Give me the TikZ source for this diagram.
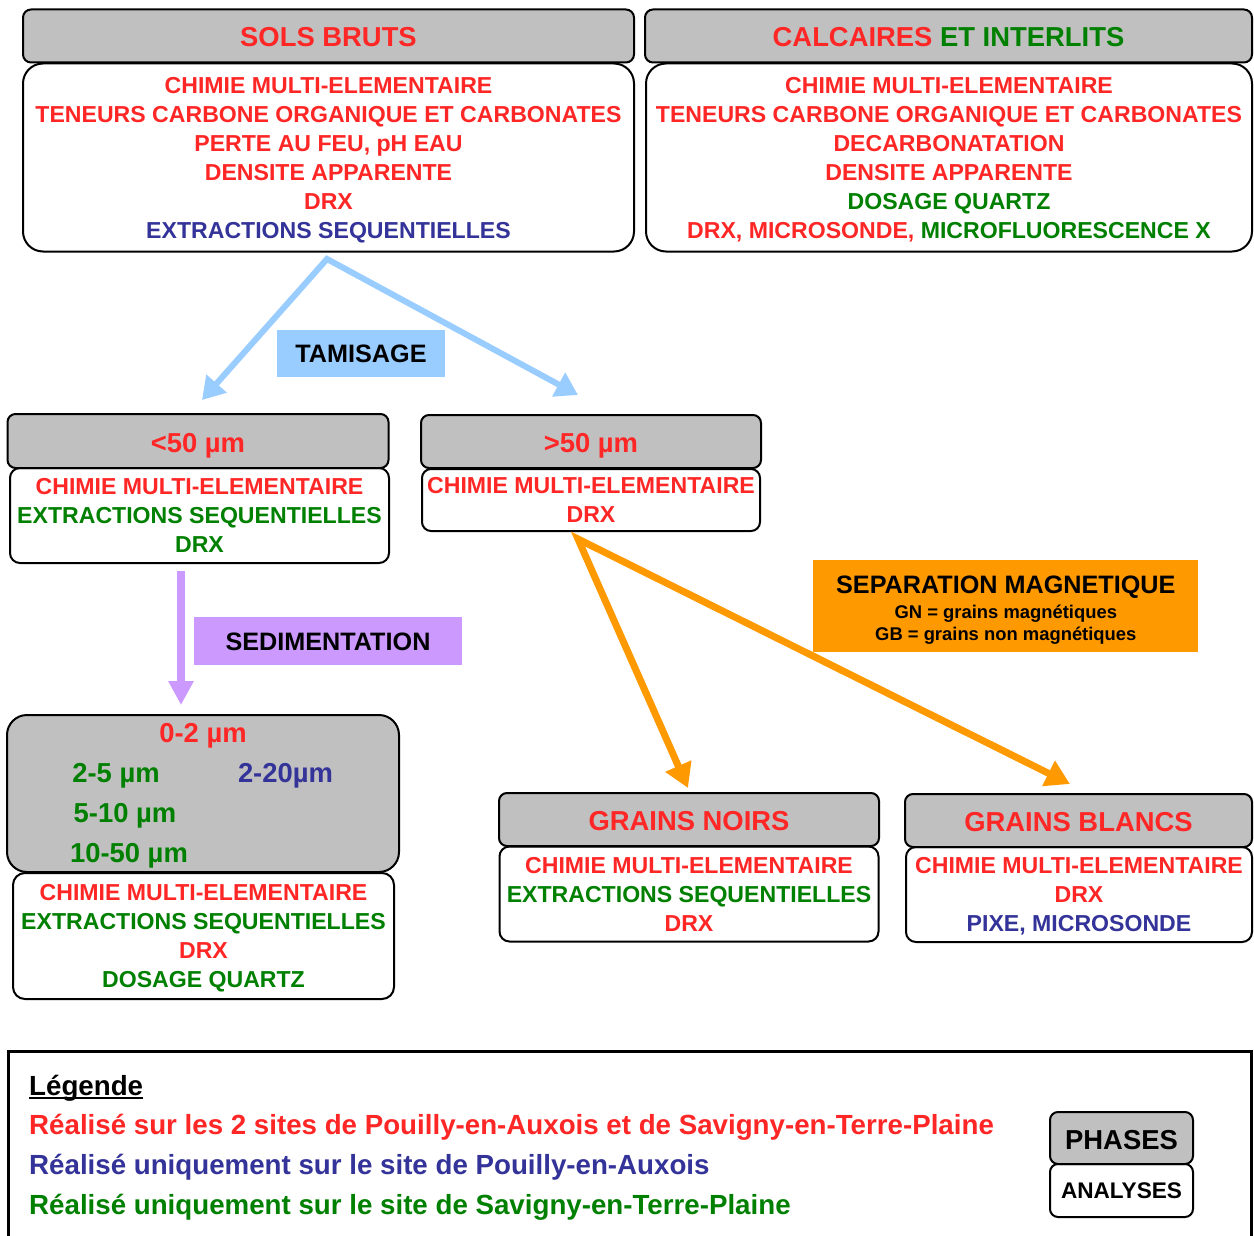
\documentclass[tikz,border=0pt]{standalone}
\usepackage{fontspec}
\setmainfont{Liberation Sans}
\usetikzlibrary{arrows.meta,calc}
\definecolor{cred}{RGB}{255,38,38}
\definecolor{cgreen}{RGB}{0,128,0}
\definecolor{cblue}{RGB}{51,51,153}
\definecolor{hgray}{RGB}{192,192,192}
\definecolor{tamc}{RGB}{153,204,255}
\definecolor{sedc}{RGB}{204,153,255}
\definecolor{sepc}{RGB}{255,153,0}
\newcommand\fhd{\fontsize{27.4}{32}\selectfont\bfseries}
\newcommand\fbd{\fontsize{23.1}{29}\selectfont\bfseries}
\newcommand\flab{\fontsize{25.2}{30}\selectfont\bfseries}
\newcommand\fsm{\fontsize{18.4}{22}\selectfont\bfseries}
\newcommand\fleg{\fontsize{27.7}{32}\selectfont\bfseries}
\newcommand\fana{\fontsize{22.6}{26}\selectfont\bfseries}
\begin{document}
\begin{tikzpicture}[x=1pt,y=-1pt,
 hdr/.style={draw=black,line width=2pt,fill=hgray,rounded corners=8pt,inner sep=0pt,font=\fhd,text=cred,text height=22pt,text depth=0pt},
 body/.style={draw=black,line width=2pt,fill=white,rounded corners=10pt,inner sep=0pt,font=\fbd,text=cred,align=center,text depth=0pt},
 lab/.style={inner sep=0pt,font=\flab,text=black,text height=18.5pt,text depth=0pt},
 txt/.style={inner sep=0pt,anchor=base},
 tamarr/.style={draw=tamc,line width=6pt,line join=miter,arrows={Triangle[length=22pt,width=26pt]-Triangle[length=22pt,width=26pt]}},
 sedarr/.style={draw=sedc,line width=8pt,arrows={-Triangle[length=24pt,width=24pt]}},
 separr/.style={draw=sepc,line width=7pt,line join=miter,arrows={Triangle[length=24pt,width=27pt]-Triangle[length=24pt,width=27pt]}}
]
\useasboundingbox (0,0) rectangle (1254,1236);
\clip (0,0) rectangle (1254,1236);
\fill[white] (0,0) rectangle (1254,1236);

% SOLS BRUTS
\node[body,rounded corners=20pt,minimum width=611pt,minimum height=188pt] (sbb) at (328.5,157.5)
 {CHIMIE MULTI-ELEMENTAIRE\\TENEURS CARBONE ORGANIQUE ET CARBONATES\\PERTE AU FEU, pH EAU\\DENSITE APPARENTE\\DRX\\\textcolor{cblue}{EXTRACTIONS SEQUENTIELLES}};
\node[hdr,minimum width=611pt,minimum height=53pt] (sbh) at (328.5,36) {SOLS BRUTS};

% CALCAIRES
\node[body,rounded corners=20pt,minimum width=606pt,minimum height=188pt] (cab) at (949,157.5)
 {CHIMIE MULTI-ELEMENTAIRE\\TENEURS CARBONE ORGANIQUE ET CARBONATES\\DECARBONATATION\\DENSITE APPARENTE\\\textcolor{cgreen}{DOSAGE QUARTZ}\\DRX, MICROSONDE, \textcolor{cgreen}{MICROFLUORESCENCE X}};
\node[hdr,minimum width=607pt,minimum height=53pt] (cah) at (948.5,36) {CALCAIRES \textcolor{cgreen}{ET INTERLITS}};

% < 50
\node[body,minimum width=379pt,minimum height=95pt] (ltb) at (199.5,515.5)
 {CHIMIE MULTI-ELEMENTAIRE\\\textcolor{cgreen}{EXTRACTIONS SEQUENTIELLES}\\\textcolor{cgreen}{DRX}};
\node[hdr,minimum width=381pt,minimum height=54pt] (lth) at (198,441) {<50 µm};

% > 50
\node[body,rounded corners=9pt,minimum width=338pt,minimum height=62pt] (gtb) at (591,500)
 {CHIMIE MULTI-ELEMENTAIRE\\DRX};
\node[hdr,minimum width=340pt,minimum height=53pt] (gth) at (591,441.5) {>50 µm};

% fine fractions
\node[draw=black,line width=2pt,fill=hgray,rounded corners=20pt,minimum width=392pt,minimum height=157pt] (fine) at (203,793.5) {};
\node[txt,font=\fhd,text=cred] (f02) at (203,742.7) {0-2 µm};
\node[txt,font=\fhd,text=cgreen] (f25) at (116,782.7) {2-5 µm};
\node[txt,font=\fhd,text=cblue] (f220) at (285.5,782.7) {2-20µm};
\node[txt,font=\fhd,text=cgreen] (f510) at (125,822.7) {5-10 µm};
\node[txt,font=\fhd,text=cgreen] (f1050) at (129,862.7) {10-50 µm};
\node[body,rounded corners=12pt,minimum width=381pt,minimum height=126pt] (fineb) at (203.5,936)
 {CHIMIE MULTI-ELEMENTAIRE\\\textcolor{cgreen}{EXTRACTIONS SEQUENTIELLES}\\DRX\\\textcolor{cgreen}{DOSAGE QUARTZ}};

% grains noirs
\node[body,minimum width=379pt,minimum height=95pt] (gnb) at (689,894)
 {CHIMIE MULTI-ELEMENTAIRE\\\textcolor{cgreen}{EXTRACTIONS SEQUENTIELLES}\\DRX};
\node[hdr,minimum width=380pt,minimum height=53pt] (gnh) at (689,819.5) {GRAINS NOIRS};

% grains blancs
\node[body,minimum width=346pt,minimum height=95pt] (gbb) at (1079,894.5)
 {CHIMIE MULTI-ELEMENTAIRE\\DRX\\\textcolor{cblue}{PIXE, MICROSONDE}};
\node[hdr,minimum width=347pt,minimum height=53pt] (gbh) at (1078.5,820.5) {GRAINS BLANCS};

% arrows
\coordinate (tapex) at ([shift={(-1.5pt,-6.5pt)}]sbb.south);
\coordinate (tl) at ([shift={(4pt,13pt)}]lth.north);
\coordinate (tr) at ([shift={(-13pt,19pt)}]gth.north);
\draw[tamarr] (tl) -- (tapex) -- (tr);

\coordinate (sedstart) at ([shift={(-18.5pt,-7pt)}]ltb.south);
\coordinate (sedtip) at ([shift={(-22pt,9pt)}]fine.north);
\draw[sedarr] (sedstart) -- (sedtip);

\coordinate (oapex) at ([shift={(-13pt,-7pt)}]gtb.south);
\coordinate (otip1) at ([shift={(-1pt,4pt)}]gnh.north);
\coordinate (otip2) at ([shift={(-8.5pt,9pt)}]gbh.north);
\draw[separr] (otip1) -- (oapex) -- (otip2);

% process labels
\node[lab,fill=tamc,minimum width=168pt,minimum height=47pt] (tam) at (361,353) {TAMISAGE};
\node[lab,fill=sedc,minimum width=268pt,minimum height=48pt] (sed) at (328,641) {SEDIMENTATION};
\node[fill=sepc,inner sep=0pt,minimum width=385pt,minimum height=92pt] (sep) at (1005.8,605.8) {};
\node[txt,font=\flab] (sept) at (1005.8,593) {SEPARATION MAGNETIQUE};
\node[txt,font=\fsm] (sepn) at (1005.8,618.6) {GN = grains magnétiques};
\node[txt,font=\fsm] (sepb) at (1005.8,640.6) {GB = grains non magnétiques};

% legend
\draw[line width=3pt] (8.5,1051) rectangle (1251.5,1260);
\node[inner sep=0pt,anchor=base west,font=\fleg] (legt) at (29,1095) {Légende};
\draw[line width=2pt] ([yshift=-3pt]legt.base west) -- ([yshift=-3pt]legt.base east);
\node[inner sep=0pt,anchor=base west,font=\fleg,text=cred] (leg1) at (29,1134.5) {Réalisé sur les 2 sites de Pouilly-en-Auxois et de Savigny-en-Terre-Plaine};
\node[inner sep=0pt,anchor=base west,font=\fleg,text=cblue] (leg2) at (29,1174.5) {Réalisé uniquement sur le site de Pouilly-en-Auxois};
\node[inner sep=0pt,anchor=base west,font=\fleg,text=cgreen] (leg3) at (29,1214.5) {Réalisé uniquement sur le site de Savigny-en-Terre-Plaine};
\node[body,font=\fana,text=black,rounded corners=8pt,minimum width=143pt,minimum height=53pt] (ana) at (1121.5,1190.5) {ANALYSES};
\node[hdr,text=black,minimum width=143pt,minimum height=52pt] (pha) at (1121.5,1138) {PHASES};
\end{tikzpicture}
\end{document}
